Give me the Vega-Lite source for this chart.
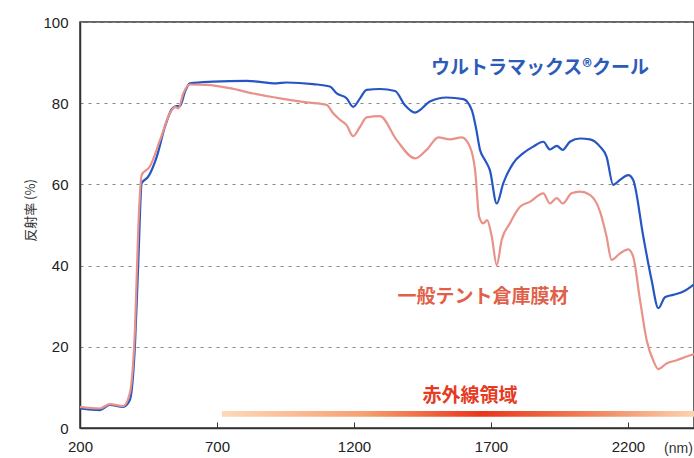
{
  "$schema": "https://vega.github.io/schema/vega-lite/v6.json",
  "width": 614,
  "height": 406,
  "autosize": "none",
  "padding": {"left": 80, "top": 22, "right": 0, "bottom": 30},
  "background": "white",
  "config": {
    "view": {"stroke": "#333", "strokeWidth": 1.5},
    "font": "Liberation Sans"
  },
  "datasets": {
    "curves": [
      {"nm": 200, "r": 4.8, "s": "ultra"},
      {"nm": 273, "r": 4.4, "s": "ultra"},
      {"nm": 309, "r": 5.7, "s": "ultra"},
      {"nm": 357, "r": 5.2, "s": "ultra"},
      {"nm": 382, "r": 6.9, "s": "ultra"},
      {"nm": 401, "r": 21, "s": "ultra"},
      {"nm": 413, "r": 41.4, "s": "ultra"},
      {"nm": 425, "r": 60.3, "s": "ultra"},
      {"nm": 449, "r": 61.9, "s": "ultra"},
      {"nm": 480, "r": 66.8, "s": "ultra"},
      {"nm": 510, "r": 74.2, "s": "ultra"},
      {"nm": 535, "r": 78.5, "s": "ultra"},
      {"nm": 553, "r": 79.3, "s": "ultra"},
      {"nm": 565, "r": 79.3, "s": "ultra"},
      {"nm": 583, "r": 82.8, "s": "ultra"},
      {"nm": 601, "r": 84.9, "s": "ultra"},
      {"nm": 686, "r": 85.3, "s": "ultra"},
      {"nm": 808, "r": 85.5, "s": "ultra"},
      {"nm": 917, "r": 84.9, "s": "ultra"},
      {"nm": 954, "r": 85.1, "s": "ultra"},
      {"nm": 1051, "r": 84.7, "s": "ultra"},
      {"nm": 1112, "r": 84.1, "s": "ultra"},
      {"nm": 1137, "r": 82.4, "s": "ultra"},
      {"nm": 1173, "r": 81.2, "s": "ultra"},
      {"nm": 1197, "r": 79.1, "s": "ultra"},
      {"nm": 1222, "r": 81.2, "s": "ultra"},
      {"nm": 1246, "r": 83.3, "s": "ultra"},
      {"nm": 1295, "r": 83.5, "s": "ultra"},
      {"nm": 1350, "r": 83.0, "s": "ultra"},
      {"nm": 1386, "r": 79.5, "s": "ultra"},
      {"nm": 1423, "r": 77.7, "s": "ultra"},
      {"nm": 1477, "r": 80.4, "s": "ultra"},
      {"nm": 1538, "r": 81.4, "s": "ultra"},
      {"nm": 1599, "r": 81.0, "s": "ultra"},
      {"nm": 1630, "r": 78.3, "s": "ultra"},
      {"nm": 1645, "r": 74.0, "s": "ultra"},
      {"nm": 1660, "r": 68.5, "s": "ultra"},
      {"nm": 1678, "r": 66.0, "s": "ultra"},
      {"nm": 1696, "r": 63.5, "s": "ultra"},
      {"nm": 1721, "r": 55.3, "s": "ultra"},
      {"nm": 1745, "r": 60.3, "s": "ultra"},
      {"nm": 1781, "r": 65.2, "s": "ultra"},
      {"nm": 1818, "r": 67.7, "s": "ultra"},
      {"nm": 1854, "r": 69.3, "s": "ultra"},
      {"nm": 1891, "r": 70.5, "s": "ultra"},
      {"nm": 1915, "r": 68.6, "s": "ultra"},
      {"nm": 1940, "r": 69.5, "s": "ultra"},
      {"nm": 1962, "r": 68.5, "s": "ultra"},
      {"nm": 1988, "r": 70.5, "s": "ultra"},
      {"nm": 2025, "r": 71.3, "s": "ultra"},
      {"nm": 2061, "r": 71.1, "s": "ultra"},
      {"nm": 2098, "r": 69.3, "s": "ultra"},
      {"nm": 2122, "r": 66.8, "s": "ultra"},
      {"nm": 2146, "r": 59.9, "s": "ultra"},
      {"nm": 2171, "r": 61.1, "s": "ultra"},
      {"nm": 2201, "r": 62.3, "s": "ultra"},
      {"nm": 2219, "r": 61.1, "s": "ultra"},
      {"nm": 2256, "r": 47.1, "s": "ultra"},
      {"nm": 2286, "r": 36.5, "s": "ultra"},
      {"nm": 2311, "r": 29.5, "s": "ultra"},
      {"nm": 2335, "r": 32.2, "s": "ultra"},
      {"nm": 2365, "r": 32.8, "s": "ultra"},
      {"nm": 2402, "r": 33.6, "s": "ultra"},
      {"nm": 2441, "r": 35.4, "s": "ultra"},
      {"nm": 200, "r": 5.2, "s": "tent"},
      {"nm": 273, "r": 4.8, "s": "tent"},
      {"nm": 309, "r": 5.9, "s": "tent"},
      {"nm": 358, "r": 5.4, "s": "tent"},
      {"nm": 382, "r": 8.6, "s": "tent"},
      {"nm": 401, "r": 25, "s": "tent"},
      {"nm": 413, "r": 49.6, "s": "tent"},
      {"nm": 425, "r": 62.3, "s": "tent"},
      {"nm": 455, "r": 64.4, "s": "tent"},
      {"nm": 492, "r": 70.9, "s": "tent"},
      {"nm": 528, "r": 77.5, "s": "tent"},
      {"nm": 547, "r": 79.1, "s": "tent"},
      {"nm": 559, "r": 78.7, "s": "tent"},
      {"nm": 577, "r": 82.4, "s": "tent"},
      {"nm": 601, "r": 84.6, "s": "tent"},
      {"nm": 662, "r": 84.5, "s": "tent"},
      {"nm": 747, "r": 83.7, "s": "tent"},
      {"nm": 832, "r": 82.4, "s": "tent"},
      {"nm": 930, "r": 81.2, "s": "tent"},
      {"nm": 1027, "r": 80.2, "s": "tent"},
      {"nm": 1100, "r": 79.6, "s": "tent"},
      {"nm": 1124, "r": 77.5, "s": "tent"},
      {"nm": 1149, "r": 75.9, "s": "tent"},
      {"nm": 1173, "r": 74.6, "s": "tent"},
      {"nm": 1197, "r": 71.9, "s": "tent"},
      {"nm": 1222, "r": 74.2, "s": "tent"},
      {"nm": 1246, "r": 76.5, "s": "tent"},
      {"nm": 1295, "r": 76.8, "s": "tent"},
      {"nm": 1356, "r": 70.9, "s": "tent"},
      {"nm": 1423, "r": 66.4, "s": "tent"},
      {"nm": 1465, "r": 68.5, "s": "tent"},
      {"nm": 1508, "r": 71.6, "s": "tent"},
      {"nm": 1550, "r": 71.1, "s": "tent"},
      {"nm": 1593, "r": 71.6, "s": "tent"},
      {"nm": 1623, "r": 69.3, "s": "tent"},
      {"nm": 1642, "r": 63.5, "s": "tent"},
      {"nm": 1657, "r": 52.0, "s": "tent"},
      {"nm": 1672, "r": 50.4, "s": "tent"},
      {"nm": 1686, "r": 51.2, "s": "tent"},
      {"nm": 1703, "r": 47.1, "s": "tent"},
      {"nm": 1721, "r": 40.1, "s": "tent"},
      {"nm": 1739, "r": 46.3, "s": "tent"},
      {"nm": 1769, "r": 50.4, "s": "tent"},
      {"nm": 1806, "r": 54.5, "s": "tent"},
      {"nm": 1842, "r": 55.7, "s": "tent"},
      {"nm": 1891, "r": 57.8, "s": "tent"},
      {"nm": 1915, "r": 55.3, "s": "tent"},
      {"nm": 1940, "r": 56.6, "s": "tent"},
      {"nm": 1962, "r": 55.3, "s": "tent"},
      {"nm": 1994, "r": 57.8, "s": "tent"},
      {"nm": 2025, "r": 58.2, "s": "tent"},
      {"nm": 2061, "r": 57.4, "s": "tent"},
      {"nm": 2098, "r": 53.3, "s": "tent"},
      {"nm": 2122, "r": 47.1, "s": "tent"},
      {"nm": 2140, "r": 41.4, "s": "tent"},
      {"nm": 2171, "r": 43.0, "s": "tent"},
      {"nm": 2201, "r": 44.0, "s": "tent"},
      {"nm": 2219, "r": 42.2, "s": "tent"},
      {"nm": 2244, "r": 31.5, "s": "tent"},
      {"nm": 2268, "r": 21.7, "s": "tent"},
      {"nm": 2292, "r": 16.7, "s": "tent"},
      {"nm": 2311, "r": 14.5, "s": "tent"},
      {"nm": 2341, "r": 15.9, "s": "tent"},
      {"nm": 2378, "r": 16.7, "s": "tent"},
      {"nm": 2414, "r": 17.6, "s": "tent"},
      {"nm": 2441, "r": 18.2, "s": "tent"}
    ],
    "band": [{"x1": 718, "x2": 2441, "y1": 2.8, "y2": 4.2}],
    "labels": [
      {"nm": 1879, "r": 88.7, "text": "ウルトラマックス®クール", "c": "#2d5cb8", "size": 19},
      {"nm": 1671, "r": 32.2, "text": "一般テント倉庫膜材", "c": "#e0604a", "size": 19},
      {"nm": 1623, "r": 7.8, "text": "赤外線領域", "c": "#e63b22", "size": 19}
    ]
  },
  "layer": [
    {
      "data": {"name": "band"},
      "mark": {
        "type": "rect",
        "fill": {
          "gradient": "linear", "x1": 0, "y1": 0, "x2": 1, "y2": 0,
          "stops": [
            {"offset": 0, "color": "#fdd9b8"},
            {"offset": 0.3, "color": "#f7a070"},
            {"offset": 0.55, "color": "#e8361a"},
            {"offset": 0.8, "color": "#f08a60"},
            {"offset": 1, "color": "#fcd3b0"}
          ]
        }
      },
      "encoding": {
        "x": {"field": "x1", "type": "quantitative", "scale": {"domain": [200, 2441], "nice": false, "zero": false}},
        "x2": {"field": "x2"},
        "y": {"field": "y1", "type": "quantitative", "scale": {"domain": [0, 100], "nice": false}},
        "y2": {"field": "y2"}
      }
    },
    {
      "data": {"name": "curves"},
      "mark": {"type": "line", "strokeWidth": 2.2, "interpolate": "monotone"},
      "encoding": {
        "x": {
          "field": "nm", "type": "quantitative",
          "scale": {"domain": [200, 2441], "nice": false, "zero": false},
          "axis": {
            "values": [200, 700, 1200, 1700, 2200],
            "format": "d",
            "labelFlush": false,
            "grid": false,
            "domainColor": "#333", "domainWidth": 1.5,
            "tickColor": "#333", "tickSize": -6, "tickWidth": 1,
            "labelFontSize": 15, "labelColor": "#222", "labelPadding": 17,
            "labelFont": "Liberation Sans",
            "title": "(nm)", "titleX": 598, "titleY": 20, "titleAlign": "center",
            "titleBaseline": "middle", "titleFontSize": 14, "titleFontWeight": "normal",
            "titleColor": "#333", "titleFont": "Liberation Sans"
          }
        },
        "y": {
          "field": "r", "type": "quantitative",
          "scale": {"domain": [0, 100], "nice": false},
          "axis": {
            "values": [0, 20, 40, 60, 80, 100],
            "labelFlush": false,
            "grid": true, "gridColor": "#888", "gridDash": [3, 5], "gridWidth": 1.2,
            "ticks": false,
            "domainColor": "#333", "domainWidth": 1.5,
            "labelFontSize": 15, "labelColor": "#222", "labelPadding": 12,
            "labelFont": "Liberation Sans",
            "title": "反射率 (%)", "titleX": -50, "titleY": 188, "titleAlign": "center",
            "titleBaseline": "middle", "titleAngle": 270,
            "titleFontSize": 13, "titleFontWeight": "normal", "titleColor": "#333",
            "titleFont": "Noto Sans CJK JP"
          }
        },
        "color": {
          "field": "s", "type": "nominal",
          "scale": {"domain": ["ultra", "tent"], "range": ["#2655c4", "#e8928a"]},
          "legend": null
        },
        "order": {"field": "s", "sort": "descending"}
      }
    },
    {
      "data": {"name": "labels"},
      "mark": {"type": "text", "font": "Noto Sans CJK JP", "fontWeight": "bold", "align": "center", "baseline": "middle"},
      "encoding": {
        "x": {"field": "nm", "type": "quantitative"},
        "y": {"field": "r", "type": "quantitative"},
        "text": {"field": "text"},
        "color": {"field": "c", "type": "nominal", "scale": null},
        "size": {"field": "size", "type": "quantitative", "scale": null}
      }
    }
  ]
}
